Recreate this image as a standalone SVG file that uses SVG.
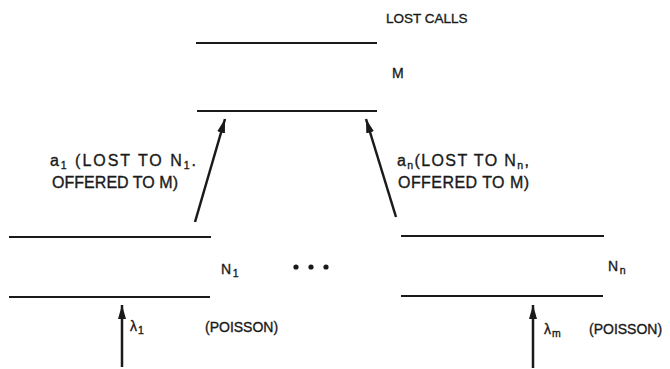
<svg xmlns="http://www.w3.org/2000/svg" width="670" height="369" viewBox="0 0 670 369">
<style>
.bar{stroke:#1a1a1a;stroke-width:2;fill:none}
.arr{stroke:#1a1a1a;stroke-width:2.5;fill:none;marker-end:url(#ah)}
text{font-family:"Liberation Sans",Arial,sans-serif;fill:#1a1a1a;stroke:#1a1a1a;stroke-width:0.35}
.lbl{font-size:16px}
.sm{font-size:14px}
.top{font-size:13.5px}
.sub{font-size:10.5px}
</style>
<defs>
<marker id="ah" markerUnits="userSpaceOnUse" markerWidth="16" markerHeight="10" refX="14" refY="5" orient="auto">
<path d="M0,1 L14,5 L0,9 Z" fill="#1a1a1a"/>
</marker>
</defs>
<rect width="670" height="369" fill="#fff"/>
<g id="lost-calls">
<text class="top" x="386" y="23">LOST CALLS</text>
</g>
<g id="M">
<line class="bar" x1="196" y1="43" x2="377" y2="43"/>
<line class="bar" x1="197" y1="111" x2="377" y2="111"/>
<text class="sm" x="392" y="78">M</text>
</g>
<g id="N1">
<line class="bar" x1="9" y1="237" x2="211" y2="237"/>
<line class="bar" x1="9" y1="297" x2="210" y2="297"/>
<text class="sm" x="221" y="274">N<tspan class="sub" dx="1.5" dy="3">1</tspan></text>
</g>
<g id="dots">
<circle cx="296" cy="267" r="2.6" fill="#1a1a1a"/>
<circle cx="311" cy="267" r="2.6" fill="#1a1a1a"/>
<circle cx="326" cy="267" r="2.6" fill="#1a1a1a"/>
</g>
<g id="Nn">
<line class="bar" x1="401" y1="236" x2="604" y2="236"/>
<line class="bar" x1="401" y1="296" x2="603" y2="296"/>
<text class="sm" x="608" y="271">N<tspan class="sub" dx="1.5" dy="3">n</tspan></text>
</g>
<g id="connectors">
<line class="arr" x1="195" y1="222" x2="225" y2="119"/>
<line class="arr" x1="396" y1="217" x2="366" y2="119"/>
<line class="arr" x1="122" y1="367" x2="122" y2="305"/>
<line class="arr" x1="533" y1="368" x2="533" y2="305"/>
</g>
<g id="labels">
<text class="lbl" x="50" y="166" textLength="146" lengthAdjust="spacing">a<tspan class="sub" dy="3">1</tspan><tspan dy="-3"> (LOST TO N</tspan><tspan class="sub" dy="3">1</tspan><tspan dy="-3">.</tspan></text>
<text class="lbl" x="52" y="188" textLength="126" lengthAdjust="spacing">OFFERED TO M)</text>
<text class="lbl" x="397" y="166" textLength="132" lengthAdjust="spacing">a<tspan class="sub" dy="3">n</tspan><tspan dy="-3">(LOST TO N</tspan><tspan class="sub" dy="3">n</tspan><tspan dy="-3">,</tspan></text>
<text class="lbl" x="398" y="188" textLength="131" lengthAdjust="spacing">OFFERED TO M)</text>
<text class="sm" x="130" y="331">λ<tspan class="sub" dx="1" dy="3">1</tspan></text>
<text class="sm" x="205" y="332">(POISSON)</text>
<text class="sm" x="544" y="334">λ<tspan class="sub" dx="1" dy="3">m</tspan></text>
<text class="sm" x="589" y="334">(POISSON)</text>
</g>
</svg>
